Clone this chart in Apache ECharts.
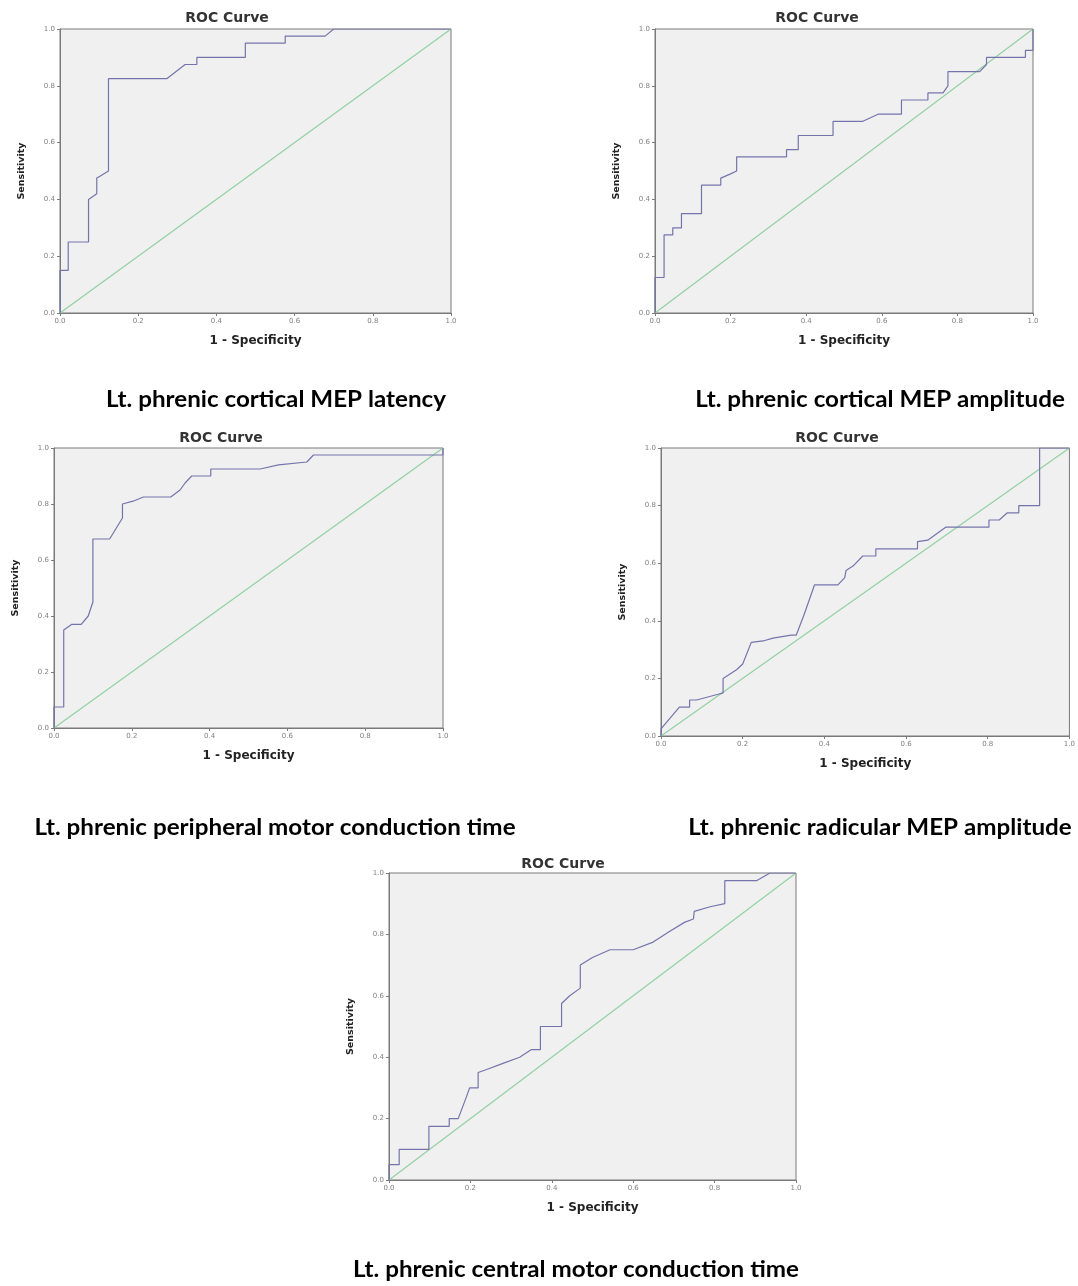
<!DOCTYPE html>
<html>
<head>
<meta charset="utf-8">
<title>ROC curves - Lt. phrenic</title>
<script src="https://cdn.jsdelivr.net/npm/echarts@6/dist/echarts.min.js"></script>
<style>
    html, body { margin: 0; padding: 0; background: #ffffff; }
    #chart { width: 1078px; height: 1286px; }
</style>
</head>
<body>
<div id="chart"></div>
<script>
// Axis ticks (shared by every panel)
const tickValues = [0, 0.2, 0.4, 0.6, 0.8, 1.0];

// Reference diagonal
const diagonal = [0, 1];

// Lt. phrenic cortical MEP latency
const latencyFpr  = [0, 0, 0.021, 0.021, 0.073, 0.073, 0.094, 0.094, 0.10, 0.124, 0.124, 0.273, 0.32, 0.35, 0.35, 0.474, 0.474, 0.576, 0.576, 0.678, 0.70, 1.0];
const latencySens = [0, 0.15, 0.15, 0.25, 0.25, 0.40, 0.42, 0.475, 0.48, 0.50, 0.825, 0.825, 0.875, 0.875, 0.90, 0.90, 0.95, 0.95, 0.975, 0.975, 1.0, 1.0];

// Lt. phrenic cortical MEP amplitude
const amplitudeFpr  = [0, 0, 0.024, 0.024, 0.047, 0.047, 0.07, 0.07, 0.123, 0.123, 0.174, 0.174, 0.20, 0.216, 0.216, 0.348, 0.348, 0.379, 0.379, 0.471, 0.471, 0.55, 0.59, 0.652, 0.652, 0.722, 0.722, 0.762, 0.775, 0.775, 0.859, 0.877, 0.877, 0.98, 0.98, 1.0, 1.0];
const amplitudeSens = [0, 0.125, 0.125, 0.275, 0.275, 0.30, 0.30, 0.35, 0.35, 0.45, 0.45, 0.475, 0.49, 0.50, 0.55, 0.55, 0.575, 0.575, 0.625, 0.625, 0.675, 0.675, 0.70, 0.70, 0.75, 0.75, 0.775, 0.775, 0.80, 0.85, 0.85, 0.875, 0.90, 0.90, 0.925, 0.925, 1.0];

// Lt. phrenic peripheral motor conduction time
const peripheralFpr  = [0, 0, 0.025, 0.025, 0.045, 0.07, 0.088, 0.10, 0.10, 0.143, 0.165, 0.176, 0.176, 0.203, 0.23, 0.30, 0.324, 0.337, 0.354, 0.403, 0.403, 0.53, 0.577, 0.65, 0.667, 1.0, 1.0];
const peripheralSens = [0, 0.075, 0.075, 0.35, 0.37, 0.37, 0.40, 0.45, 0.675, 0.675, 0.725, 0.75, 0.80, 0.81, 0.825, 0.825, 0.85, 0.875, 0.90, 0.90, 0.925, 0.925, 0.94, 0.95, 0.975, 0.975, 1.0];

// Lt. phrenic radicular MEP amplitude
const radicularFpr  = [0, 0, 0.045, 0.07, 0.07, 0.087, 0.14, 0.152, 0.152, 0.185, 0.20, 0.221, 0.25, 0.274, 0.319, 0.331, 0.35, 0.376, 0.433, 0.45, 0.453, 0.47, 0.494, 0.526, 0.526, 0.628, 0.628, 0.653, 0.697, 0.803, 0.803, 0.828, 0.848, 0.876, 0.876, 0.927, 0.927, 1.0];
const radicularSens = [0, 0.025, 0.10, 0.10, 0.125, 0.125, 0.145, 0.15, 0.20, 0.23, 0.25, 0.325, 0.33, 0.34, 0.35, 0.35, 0.42, 0.525, 0.525, 0.55, 0.575, 0.59, 0.625, 0.625, 0.65, 0.65, 0.675, 0.68, 0.725, 0.725, 0.75, 0.75, 0.775, 0.775, 0.80, 0.80, 1.0, 1.0];

// Lt. phrenic central motor conduction time
const centralFpr  = [0, 0, 0.025, 0.025, 0.098, 0.098, 0.148, 0.148, 0.17, 0.19, 0.198, 0.219, 0.219, 0.24, 0.28, 0.321, 0.35, 0.372, 0.372, 0.424, 0.424, 0.444, 0.47, 0.47, 0.50, 0.543, 0.60, 0.649, 0.69, 0.727, 0.748, 0.75, 0.789, 0.825, 0.825, 0.903, 0.936, 1.0];
const centralSens = [0, 0.05, 0.05, 0.10, 0.10, 0.175, 0.175, 0.20, 0.20, 0.27, 0.30, 0.30, 0.35, 0.36, 0.38, 0.40, 0.425, 0.425, 0.50, 0.50, 0.575, 0.60, 0.625, 0.70, 0.725, 0.75, 0.75, 0.775, 0.81, 0.84, 0.85, 0.875, 0.89, 0.90, 0.975, 0.975, 1.0, 1.0];

const captions = [
    'Lt. phrenic cortical MEP latency',
    'Lt. phrenic cortical MEP amplitude',
    'Lt. phrenic peripheral motor conduction time',
    'Lt. phrenic radicular MEP amplitude',
    'Lt. phrenic central motor conduction time'
];

// Panel layout: plot box, "ROC Curve" title and caption positions
const panels = [
    { fpr: latencyFpr,    sens: latencySens,    box: [60, 29, 391, 284],  title: [227, 18],  caption: [276, 400] },
    { fpr: amplitudeFpr,  sens: amplitudeSens,  box: [655, 29, 378, 284], title: [817, 18],  caption: [880, 400] },
    { fpr: peripheralFpr, sens: peripheralSens, box: [54, 448, 389, 280], title: [221, 438], caption: [275, 828] },
    { fpr: radicularFpr,  sens: radicularSens,  box: [661, 448, 410, 288], title: [837, 438], caption: [880, 828] },
    { fpr: centralFpr,    sens: centralSens,    box: [389, 873, 407, 307], title: [563, 864], caption: [576, 1270] }
];

const curveColor = '#7474ac';
const diagColor = '#93d0a2';
const frameColor = '#7a7a7a';

function pairs(xs, ys) {
    return xs.map((x, i) => [x, ys[i]]);
}

const grids = [], xAxes = [], yAxes = [], series = [], graphics = [];

panels.forEach((p, i) => {
    grids.push({
        left: p.box[0], top: p.box[1], width: p.box[2], height: p.box[3],
        show: true,
        backgroundColor: '#f0f0f0',
        borderColor: frameColor,
        borderWidth: 1
    });

    const axisCommon = {
        gridIndex: i,
        type: 'value',
        min: tickValues[0],
        max: tickValues[tickValues.length - 1],
        interval: 0.2,
        axisLine: { show: true, lineStyle: { color: frameColor, width: 1 } },
        axisTick: { show: true, length: 3, lineStyle: { color: frameColor } },
        splitLine: { show: false },
        axisLabel: {
            fontSize: 7,
            fontFamily: 'DejaVu Sans',
            color: '#808080',
            margin: 5,
            formatter: v => v.toFixed(1)
        },
        nameLocation: 'middle'
    };

    xAxes.push(Object.assign({}, axisCommon, {
        name: '1 - Specificity',
        nameGap: 22,
        nameTextStyle: { fontFamily: 'DejaVu Sans', fontWeight: 'bold', fontSize: 12, color: '#222' }
    }));
    yAxes.push(Object.assign({}, axisCommon, {
        name: 'Sensitivity',
        nameGap: 33,
        nameTextStyle: { fontFamily: 'DejaVu Sans', fontWeight: 'bold', fontSize: 9.5, color: '#222' }
    }));

    series.push({
        type: 'line',
        xAxisIndex: i, yAxisIndex: i,
        data: pairs(diagonal, diagonal),
        showSymbol: false,
        lineStyle: { color: diagColor, width: 1.2 },
        silent: true
    });
    series.push({
        type: 'line',
        xAxisIndex: i, yAxisIndex: i,
        data: pairs(p.fpr, p.sens),
        showSymbol: false,
        lineStyle: { color: curveColor, width: 1.2 },
        silent: true
    });

    graphics.push({
        type: 'text',
        x: p.title[0], y: p.title[1],
        style: {
            text: 'ROC Curve',
            align: 'center', verticalAlign: 'middle',
            fontFamily: 'DejaVu Sans', fontWeight: 'bold', fontSize: 14,
            fill: '#333'
        }
    });
    graphics.push({
        type: 'text',
        x: p.caption[0], y: p.caption[1],
        scaleX: 1.1,
        style: {
            text: captions[i],
            align: 'center', verticalAlign: 'middle',
            fontFamily: 'Lato', fontWeight: 'bold', fontSize: 22,
            fill: '#000'
        }
    });
});

const chart = echarts.init(document.getElementById('chart'), null, { renderer: 'canvas' });
chart.setOption({
    animation: false,
    backgroundColor: '#ffffff',
    grid: grids,
    xAxis: xAxes,
    yAxis: yAxes,
    series: series,
    graphic: graphics
});
</script>
</body>
</html>
